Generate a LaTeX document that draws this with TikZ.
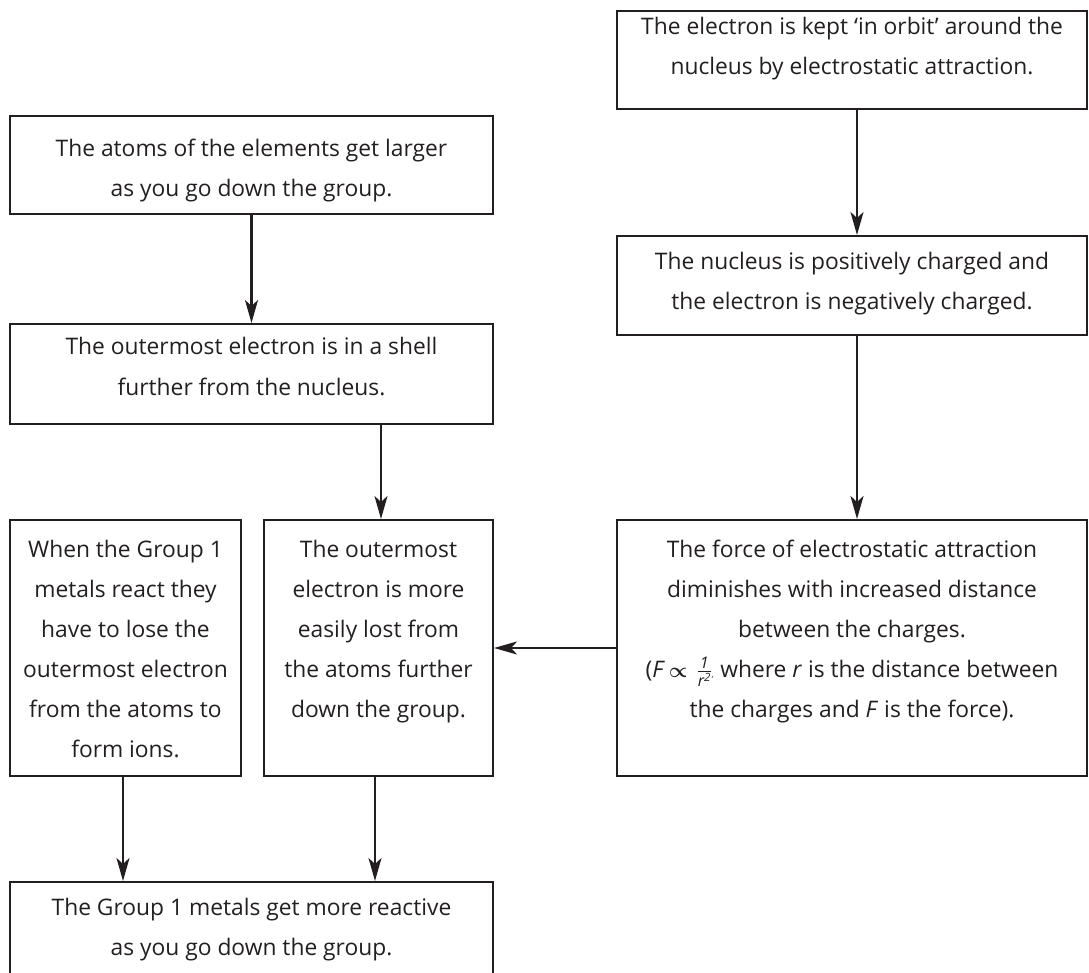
\documentclass[tikz,border=0pt]{standalone}
\usepackage{amsmath}
\usepackage{fontspec}
\setmainfont{Open Sans}
\usetikzlibrary{arrows.meta}
\definecolor{ink}{HTML}{231F20}
\newcommand\boxtext[4]{\parbox[c][#2][t]{#1}{\centering\rule{0pt}{#3}#4}}
\tikzset{
  box/.style={draw=ink, line width=2pt, text=ink, inner sep=0pt,
    font=\fontsize{22.8}{40}\selectfont},
  arr/.style={draw=ink, line width=2.4pt, -{Stealth[length=23pt,width=13pt,inset=6pt]}}
}
\begin{document}
\begin{tikzpicture}[x=1pt,y=-1pt]
\useasboundingbox (0,0) rectangle (1089,973);
\clip (0,0) rectangle (1089,973);
\node[box] (A) at (852,60)
  {\boxtext{470pt}{98pt}{24pt}{The electron is kept ‘in orbit’ around the\\nucleus by electrostatic attraction.}};
\node[box] (B) at (251.5,165)
  {\boxtext{483pt}{98pt}{41pt}{The atoms of the elements get larger\\as you go down the group.}};
\node[box] (C) at (852,285.5)
  {\boxtext{470pt}{99pt}{34pt}{The nucleus is positively charged and\\the electron is negatively charged.}};
\node[box] (D) at (251.5,374)
  {\boxtext{483pt}{100pt}{31pt}{The outermost electron is in a shell\\further from the nucleus.}};
\node[box] (E) at (125.5,648)
  {\boxtext{231pt}{256pt}{37pt}{When the Group 1\\metals react they\\have to lose the\\outermost electron\\from the atoms to\\form ions.}};
\node[box] (F) at (378.5,648)
  {\boxtext{229pt}{256pt}{37pt}{The outermost\\electron is more\\easily lost from\\the atoms further\\down the group.}};
\node[box] (G) at (852,648)
  {\boxtext{470pt}{256pt}{37pt}{The force of electrostatic attraction\\diminishes with increased distance\\between the charges.\\(\textit{F}\,$\boldsymbol{\propto}\,\frac{\textit{1}}{\textit{r}^{\textit{2}}}$\textit{\footnotesize ,}\;where \textit{r} is the distance between\\the charges and \textit{F} is the force).}};
\node[box] (H) at (251.5,929)
  {\boxtext{483pt}{94pt}{33pt}{The Group 1 metals get more reactive\\as you go down the group.}};
\draw[arr] ([xshift=5pt]A.south) -- ([xshift=5pt]C.north);
\draw[arr] ([xshift=5pt]C.south) -- ([xshift=5pt]G.north);
\draw[arr] (B.south) -- (D.north);
\draw[arr] ([xshift=2.5pt]F.north |- D.south) -- ([xshift=2.5pt]F.north);
\draw[arr] (G.west) -- (F.east);
\draw[arr] ([xshift=-2.5pt]E.south) -- ([xshift=-2.5pt]E.south |- H.north);
\draw[arr] ([xshift=-3.5pt]F.south) -- ([xshift=-3.5pt]F.south |- H.north);
\end{tikzpicture}
\end{document}
